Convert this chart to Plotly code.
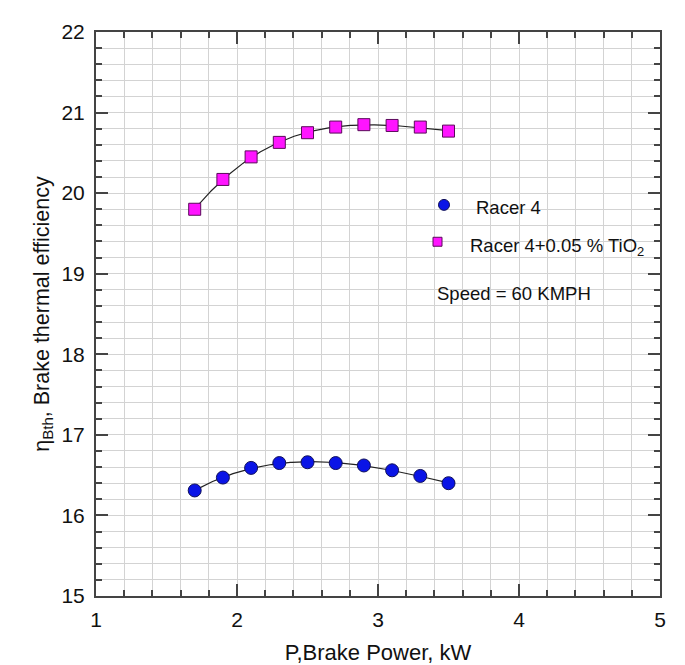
import numpy as np
import plotly.graph_objects as go

power_kw = [1.7, 1.9, 2.1, 2.3, 2.5, 2.7, 2.9, 3.1, 3.3, 3.5]
racer4 = [16.31, 16.47, 16.59, 16.65, 16.66, 16.65, 16.62, 16.56, 16.49, 16.40]
racer4_tio2 = [19.80, 20.17, 20.45, 20.63, 20.75, 20.82, 20.85, 20.84, 20.82, 20.77]

name_a = "Racer 4"
name_b = "Racer 4+0.05 % TiO<sub>2</sub>"
note = "Speed = 60 KMPH"

FONT = "Liberation Sans, Arial, sans-serif"
fig = go.Figure()

xs = np.linspace(min(power_kw), max(power_kw), 200)
for ys in (racer4, racer4_tio2):
    c = np.polyfit(power_kw, ys, 3)
    fig.add_trace(go.Scatter(x=xs, y=np.polyval(c, xs), mode="lines",
                             line=dict(color="#222222", width=1.2),
                             showlegend=False, hoverinfo="skip"))

fig.add_trace(go.Scatter(x=power_kw, y=racer4, mode="markers", name=name_a,
                         marker=dict(symbol="circle", size=13, color="#0a14e6",
                                     line=dict(color="#10105a", width=1)),
                         showlegend=False))
fig.add_trace(go.Scatter(x=power_kw, y=racer4_tio2, mode="markers", name=name_b,
                         marker=dict(symbol="square", size=12, color="#ff14ff",
                                     line=dict(color="#5a0a5a", width=1)),
                         showlegend=False))

# Page offset (body margin 8px) compensation
OFF = 8
W, H = 685, 665
L, R, T, B = 96, 660, 30, 596  # plot area in screenshot pixels
def px(x): return (x - L) / (R - L)
def py(y): return (B - y) / (B - T)

fig.add_shape(type="circle", xref="paper", yref="paper",
              x0=px(438.5), x1=px(449.5), y0=py(198), y1=py(209),
              fillcolor="#0a14e6", line=dict(color="#10105a", width=1))
fig.add_shape(type="rect", xref="paper", yref="paper",
              x0=px(433), x1=px(442), y0=py(236), y1=py(245),
              fillcolor="#ff14ff", line=dict(color="#5a0a5a", width=1))
fig.add_annotation(xref="paper", yref="paper", x=px(474), y=py(206),
                   text=name_a, showarrow=False, xanchor="left", yanchor="middle",
                   font=dict(family=FONT, size=18.5, color="#111111"))
fig.add_annotation(xref="paper", yref="paper", x=px(468), y=py(246),
                   text=name_b, showarrow=False, xanchor="left", yanchor="middle",
                   font=dict(family=FONT, size=18.5, color="#111111"))
fig.add_annotation(xref="paper", yref="paper", x=px(435), y=py(292),
                   text=note, showarrow=False, xanchor="left", yanchor="middle",
                   font=dict(family=FONT, size=18.5, color="#111111"))

grid = "#d3d3d3"
axis_common = dict(showline=True, linecolor="#444444", linewidth=2, mirror="ticks",
                   ticks="inside", ticklen=12, tickwidth=1.5, tickcolor="#444444",
                   showgrid=True, gridcolor=grid, gridwidth=1, zeroline=False,
                   tickfont=dict(family=FONT, size=21, color="#111111"))
fig.update_xaxes(range=[1, 5], dtick=1, tick0=1, ticklabelstandoff=4,
                 minor=dict(dtick=0.2, ticks="inside", ticklen=6, tickcolor="#444444",
                            showgrid=True, gridcolor=grid, gridwidth=1),
                 title=dict(text="P,Brake Power, kW", font=dict(family=FONT, size=22, color="#111111"),
                            standoff=14),
                 **axis_common)
fig.update_yaxes(range=[15, 22], dtick=1, tick0=15, ticklabelstandoff=5,
                 minor=dict(dtick=0.2, ticks="inside", ticklen=6, tickcolor="#444444",
                            showgrid=True, gridcolor=grid, gridwidth=1),
                 title=dict(text="η<sub>Bth</sub>, Brake thermal efficiency",
                            font=dict(family=FONT, size=21.5, color="#111111"), standoff=6),
                 **axis_common)

fig.update_layout(width=W, height=H,
                  margin=dict(l=L - OFF, r=W - (R - OFF), t=T - OFF, b=H - (B - OFF)),
                  paper_bgcolor="white", plot_bgcolor="white", showlegend=False)

fig.write_html("out.html")
